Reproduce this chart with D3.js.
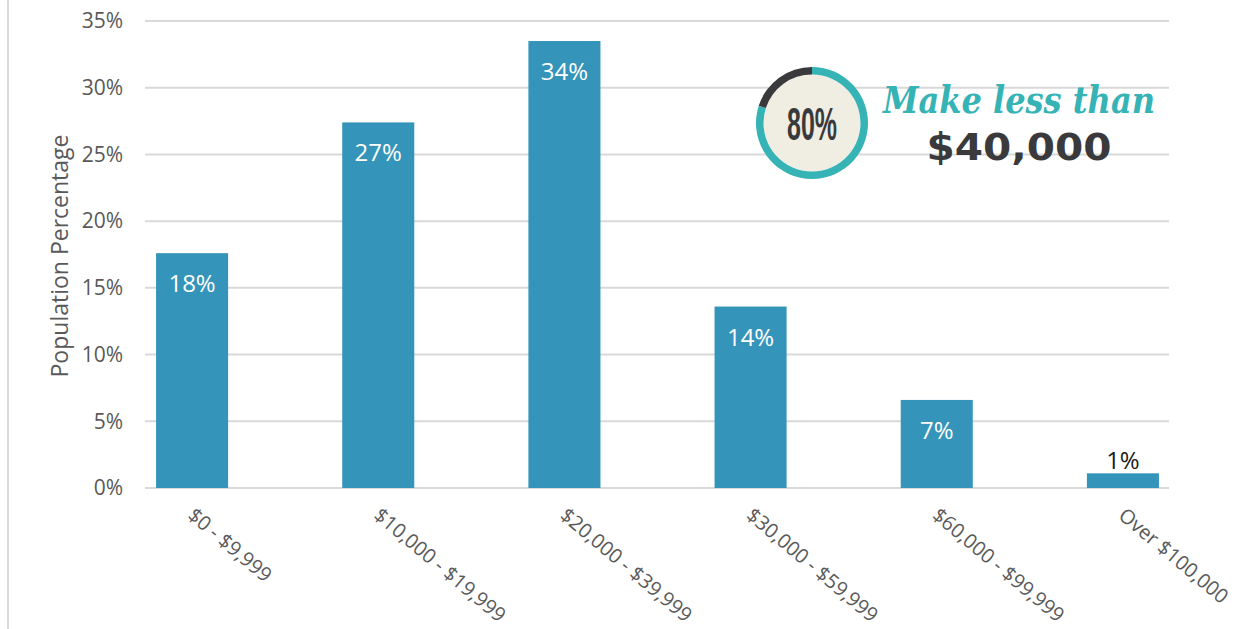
<!DOCTYPE html>
<html>
<head>
<meta charset="utf-8">
<script src="https://cdn.jsdelivr.net/npm/d3@7"></script>
<style>
  body { margin: 0; background: #fff; }
  svg { display: block; }
</style>
</head>
<body>
<div id="chart"></div>
<script>
// Data
var categories = ["$0 - $9,999", "$10,000 - $19,999", "$20,000 - $39,999",
                  "$30,000 - $59,999", "$60,000 - $99,999", "Over $100,000"];
var values = [17.6, 27.4, 33.5, 13.6, 6.6, 1.1];
var barLabels = ["18%", "27%", "34%", "14%", "7%", "1%"];
var yTicks = [0, 5, 10, 15, 20, 25, 30, 35];

// Callout figures
var calloutShare = [80, 20];   // teal part, dark part
var calloutPct = "80%";
var calloutTop = "Make less than";
var calloutBig = "$40,000";

var W = 1241, H = 629;
var textFont = "'Open Sans', 'Noto Sans', sans-serif";

var svg = d3.select("#chart").append("svg")
    .attr("width", W)
    .attr("height", H);

// Left border of the chart frame
svg.append("line")
    .attr("x1", 8).attr("x2", 8)
    .attr("y1", 0).attr("y2", H)
    .attr("stroke", "#d9d9d9")
    .attr("stroke-width", 2);

// Scales
var y = d3.scaleLinear().domain([0, 35]).range([488, 21]);
var x = d3.scaleBand()
    .domain(categories)
    .range([99, 1216])
    .paddingInner(0.613)
    .paddingOuter(0.3065);

// Gridlines
svg.append("g")
    .selectAll("line")
    .data(yTicks)
    .enter().append("line")
    .attr("x1", 145).attr("x2", 1169)
    .attr("y1", function(d) { return y(d); })
    .attr("y2", function(d) { return y(d); })
    .attr("stroke", "#d9d9d9")
    .attr("stroke-width", 2);

// Y axis tick labels
var yAxis = svg.append("g")
    .attr("transform", "translate(123,0)")
    .call(d3.axisLeft(y).tickValues(yTicks).tickSize(0).tickPadding(0)
          .tickFormat(function(d) { return d + "%"; }));
yAxis.select(".domain").remove();
yAxis.selectAll("text")
    .attr("font-family", textFont)
    .attr("font-size", "21px")
    .attr("fill", "#595959");

// Y axis title
svg.append("text")
    .attr("transform", "translate(68," + 256 + ") rotate(-90)")
    .attr("text-anchor", "middle")
    .attr("font-family", textFont)
    .attr("font-size", "23px")
    .attr("fill", "#595959")
    .text("Population Percentage");

// Bars
svg.append("g")
    .selectAll("rect")
    .data(values)
    .enter().append("rect")
    .attr("x", function(d, i) { return x(categories[i]); })
    .attr("y", function(d) { return y(d); })
    .attr("width", x.bandwidth())
    .attr("height", function(d) { return y(0) - y(d); })
    .attr("fill", "#3494ba");

// Bar value labels (inside when the bar is tall enough)
svg.append("g")
    .selectAll("text")
    .data(values)
    .enter().append("text")
    .attr("x", function(d, i) { return x(categories[i]) + x.bandwidth() / 2; })
    .attr("y", function(d) { return y(0) - y(d) > 45 ? y(d) + 39 : y(d) - 4; })
    .attr("text-anchor", "middle")
    .attr("font-family", textFont)
    .attr("font-size", "24px")
    .attr("fill", function(d) { return y(0) - y(d) > 45 ? "#ffffff" : "#1a1a1a"; })
    .text(function(d, i) { return barLabels[i]; });

// Category labels, slanted
svg.append("g")
    .selectAll("text")
    .data(categories)
    .enter().append("text")
    .attr("transform", function(d) {
        return "translate(" + (x(d) + x.bandwidth() / 2 + 4) + ",506) rotate(40)";
    })
    .attr("dy", "0.75em")
    .attr("text-anchor", "start")
    .attr("font-family", textFont)
    .attr("font-size", "20px")
    .attr("fill", "#595959")
    .text(function(d) { return d; });

// Callout: ring with 80%
var cx = 812, cy = 123, rOut = 56, ring = 7.5;
var callout = svg.append("g").attr("transform", "translate(" + cx + "," + cy + ")");

callout.append("circle")
    .attr("r", rOut - ring)
    .attr("fill", "#f0ede3");

var pie = d3.pie().sort(null);
var arc = d3.arc().innerRadius(rOut - ring).outerRadius(rOut);
callout.selectAll("path")
    .data(pie(calloutShare))
    .enter().append("path")
    .attr("d", arc)
    .attr("fill", function(d, i) { return i === 0 ? "#35b3b5" : "#3a3a3c"; });

callout.append("text")
    .attr("y", 17)
    .attr("text-anchor", "middle")
    .attr("font-family", "'Liberation Sans Narrow', 'Liberation Sans', sans-serif")
    .attr("font-weight", "bold")
    .attr("font-size", "47px")
    .attr("textLength", 50)
    .attr("lengthAdjust", "spacingAndGlyphs")
    .attr("fill", "#3a3a3c")
    .text(calloutPct);

svg.append("text")
    .attr("x", 1019).attr("y", 113)
    .attr("text-anchor", "middle")
    .attr("font-family", "'DejaVu Serif', serif")
    .attr("font-style", "italic")
    .attr("font-weight", "bold")
    .attr("font-size", "38px")
    .attr("textLength", 272)
    .attr("lengthAdjust", "spacingAndGlyphs")
    .attr("fill", "#35b3b5")
    .text(calloutTop);

svg.append("text")
    .attr("x", 1019).attr("y", 160)
    .attr("text-anchor", "middle")
    .attr("font-family", "'DejaVu Sans', sans-serif")
    .attr("font-weight", "bold")
    .attr("font-size", "37px")
    .attr("textLength", 185)
    .attr("lengthAdjust", "spacingAndGlyphs")
    .attr("fill", "#3a3a3c")
    .text(calloutBig);
</script>
</body>
</html>
